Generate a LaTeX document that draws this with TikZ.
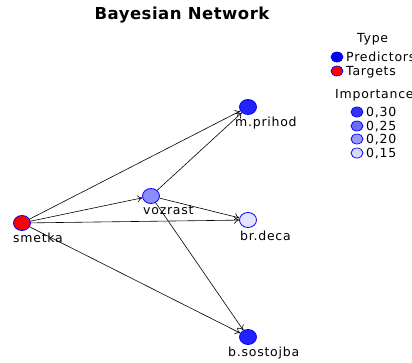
\documentclass[tikz,border=0pt]{standalone}
\usepackage{fontspec}
\setmainfont{DejaVu Sans}
\newfontfamily\spaced[LetterSpace=6]{DejaVu Sans}
\newfontfamily\titlefont[LetterSpace=3]{DejaVu Sans}
\usetikzlibrary{shapes.geometric,arrows.meta}
\definecolor{imp30}{HTML}{2222FF}
\definecolor{imp20}{HTML}{8C8CFA}
\definecolor{imp15}{HTML}{E4E4FF}
\definecolor{lg30}{HTML}{3535F0}
\definecolor{lg25}{HTML}{6C6CF2}
\definecolor{lg20}{HTML}{9C9CF5}
\definecolor{lg15}{HTML}{D8D8FF}
\begin{document}
\begin{tikzpicture}[x=1pt,y=-1pt,
  bnode/.style={ellipse,draw=blue,line width=0.8pt,minimum width=17pt,minimum height=15pt,inner sep=0pt},
  lab/.style={anchor=base west,inner sep=0pt,font=\spaced\fontsize{12.5}{14}\selectfont},
  edge/.style={-{To[length=5pt,width=7pt]},line width=0.6pt,black},
  ldot/.style={ellipse,draw=blue,line width=0.7pt,minimum width=12pt,minimum height=10pt,inner sep=0pt},
  ltxt/.style={anchor=base west,inner sep=0pt,font=\spaced\fontsize{12.5}{14}\selectfont}]
\useasboundingbox (0,0) rectangle (412,363);
\node[anchor=base,inner sep=0pt,font=\titlefont\fontsize{16.5}{18}\bfseries] (title) at (182,20) {Bayesian Network};
% nodes
\node[bnode,fill=red] (smetka) at (22,223) {};
\node[bnode,fill=imp20] (vozrast) at (151,196) {};
\node[bnode,fill=imp30] (mprihod) at (248,107) {};
\node[bnode,fill=imp15] (brdeca) at (248,220) {};
\node[bnode,fill=imp30] (bsost) at (248,337) {};
% labels
\node[lab] (lsmetka) at (13,243) {smetka};
\node[lab] (lvozrast) at (143,215) {vozrast};
\node[lab] (lmprihod) at (235,127) {m.prihod};
\node[lab] (lbrdeca) at (240,241) {br.deca};
\node[lab] (lbsost) at (228,356) {b.sostojba};
% edges
\draw[edge] (smetka) -- (mprihod);
\draw[edge] (smetka) -- (vozrast);
\draw[edge] (smetka) -- (brdeca);
\draw[edge] (smetka) -- (bsost);
\draw[edge] (vozrast) -- (mprihod);
\draw[edge] (vozrast) -- (brdeca);
\draw[edge] (vozrast) -- (bsost);
% legend
\node[ltxt] (ltype) at (357,43) {Type};
\node[ldot,fill=blue] (dpred) at (337,57) {};
\node[ltxt] (tpred) at (346,62) {Predictors};
\node[ldot,fill=red] (dtarg) at (337,71) {};
\node[ltxt] (ttarg) at (346,76) {Targets};
\node[ltxt] (limp) at (335,99) {Importance};
\node[ldot,fill=lg30] (d30) at (357,112) {};
\node[ltxt] (t30) at (366,117) {0,30};
\node[ldot,fill=lg25] (d25) at (357,126) {};
\node[ltxt] (t25) at (366,131) {0,25};
\node[ldot,fill=lg20] (d20) at (357,139) {};
\node[ltxt] (t20) at (366,144) {0,20};
\node[ldot,fill=lg15] (d15) at (357,153) {};
\node[ltxt] (t15) at (366,158) {0,15};
\end{tikzpicture}
\end{document}
